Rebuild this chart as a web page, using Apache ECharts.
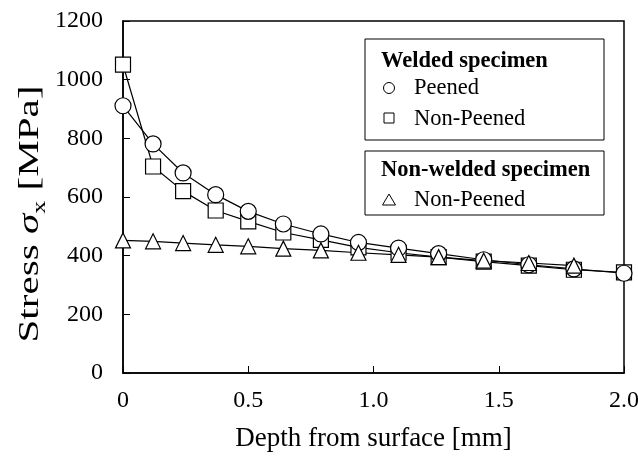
<!DOCTYPE html>
<html>
<head>
<meta charset="utf-8">
<script src="https://cdn.jsdelivr.net/npm/echarts@6/dist/echarts.min.js"></script>
<style>
  html, body { margin: 0; padding: 0; background: #fff; }
  #chart { width: 638px; height: 458px; }
</style>
</head>
<body>
<div id="chart"></div>
<script>
// 深さ [mm]
var depth = [0, 0.12, 0.24, 0.37, 0.5, 0.64, 0.79, 0.94, 1.1, 1.26, 1.44, 1.62, 1.8, 2.0];
// Welded, Peened
var weldedPeened = [911, 781, 682, 608, 551, 508, 474, 445, 426, 407, 386, 369, 355, 340];
// Welded, Non-Peened
var weldedNonPeened = [1051, 704, 620, 554, 517, 479, 454, 428, 410, 395, 380, 366, 352, 343];
// Non-welded, Non-Peened (no point at 2.0)
var nonWeldedNonPeened = [452, 449, 443, 437, 432, 424, 418, 410, 403, 395, 383, 375, 366];

var yTicks = [0, 200, 400, 600, 800, 1000, 1200];
var xTicks = [0, 0.5, 1.0, 1.5, 2.0];

var FONT = 'Liberation Serif';

function pairs(xs, ys) {
    var out = [];
    for (var i = 0; i < ys.length; i++) out.push([xs[i], ys[i]]);
    return out;
}

function lineSeries(name, data, symbol, size) {
    return {
        name: name,
        type: 'line',
        data: data,
        symbol: symbol,
        symbolSize: size,
        showAllSymbol: true,
        lineStyle: { color: '#000', width: 1.2 },
        itemStyle: { color: '#fff', borderColor: '#000', borderWidth: 1.2 },
        emphasis: { disabled: true },
        animation: false
    };
}

var chart = echarts.init(document.getElementById('chart'));
chart.setOption({
    backgroundColor: '#fff',
    animation: false,
    grid: {
        left: 123, right: 14, top: 21, bottom: 85,
        show: true, borderColor: '#000', borderWidth: 1.5,
        outerBoundsMode: 'none'
    },
    xAxis: {
        type: 'value',
        min: xTicks[0], max: xTicks[xTicks.length - 1], interval: 0.5,
        name: 'Depth from surface [mm]',
        nameLocation: 'middle', nameGap: 52,
        nameTextStyle: { fontFamily: FONT, fontSize: 27, color: '#000' },
        axisLine: { lineStyle: { color: '#000', width: 1.5 } },
        axisTick: { inside: true, length: 7, lineStyle: { color: '#000' } },
        axisLabel: {
            fontFamily: FONT, fontSize: 24, color: '#000', margin: 16,
            formatter: function (v) { return v === 0 ? '0' : v.toFixed(1); }
        },
        splitLine: { show: false }
    },
    yAxis: {
        type: 'value',
        min: yTicks[0], max: yTicks[yTicks.length - 1], interval: 200,
        axisLine: { lineStyle: { color: '#000', width: 1.5 } },
        axisTick: { inside: true, length: 7, lineStyle: { color: '#000' } },
        axisLabel: {
            fontFamily: FONT, fontSize: 24, color: '#000', margin: 20,
            formatter: function (v) { return String(v); }
        },
        splitLine: { show: false }
    },
    series: [
        lineSeries('Welded Non-Peened', pairs(depth, weldedNonPeened), 'rect', 15),
        lineSeries('Welded Peened', pairs(depth, weldedPeened), 'circle', 16),
        lineSeries('Non-welded Non-Peened', pairs(depth, nonWeldedNonPeened), 'triangle', 15)
    ],
    graphic: [
        // y-axis title (stretched along its length like the original)
        { type: 'text', x: 30, y: 214, rotation: Math.PI / 2, scaleX: 1.37, z: 101,
          style: {
              text: '{a|Stress }{b|σ}{c|x}{a| [MPa]}',
              align: 'center', verticalAlign: 'middle',
              rich: {
                  a: { fontFamily: FONT, fontSize: 30, fill: '#000' },
                  b: { fontFamily: FONT, fontSize: 30, fontStyle: 'italic', fill: '#000' },
                  c: { fontFamily: FONT, fontSize: 19, fill: '#000', verticalAlign: 'bottom', padding: [0, 0, -5, 0] }
              }
          } },
        { type: 'rect', shape: { x: 365, y: 39, width: 239, height: 101 },
          style: { fill: '#fff', stroke: '#000', lineWidth: 1 }, z: 100 },
        { type: 'rect', shape: { x: 365, y: 151, width: 239, height: 64 },
          style: { fill: '#fff', stroke: '#000', lineWidth: 1 }, z: 100 },
        { type: 'text', x: 381, y: 61, z: 101,
          style: { text: 'Welded specimen', font: 'bold 22.5px "Liberation Serif"', fill: '#000', verticalAlign: 'middle' } },
        { type: 'circle', shape: { cx: 389, cy: 88, r: 5.5 }, z: 101,
          style: { fill: '#fff', stroke: '#000', lineWidth: 1 } },
        { type: 'text', x: 414, y: 88, z: 101,
          style: { text: 'Peened', font: '22.5px "Liberation Serif"', fill: '#000', verticalAlign: 'middle' } },
        { type: 'rect', shape: { x: 384, y: 113, width: 10, height: 10 }, z: 101,
          style: { fill: '#fff', stroke: '#000', lineWidth: 1 } },
        { type: 'text', x: 414, y: 119, z: 101,
          style: { text: 'Non-Peened', font: '22.5px "Liberation Serif"', fill: '#000', verticalAlign: 'middle' } },
        { type: 'text', x: 381, y: 170, z: 101,
          style: { text: 'Non-welded specimen', font: 'bold 22.5px "Liberation Serif"', fill: '#000', verticalAlign: 'middle' } },
        { type: 'polygon', shape: { points: [[389, 194], [395.5, 205], [382.5, 205]] }, z: 101,
          style: { fill: '#fff', stroke: '#000', lineWidth: 1 } },
        { type: 'text', x: 414, y: 200, z: 101,
          style: { text: 'Non-Peened', font: '22.5px "Liberation Serif"', fill: '#000', verticalAlign: 'middle' } }
    ]
});
</script>
</body>
</html>
